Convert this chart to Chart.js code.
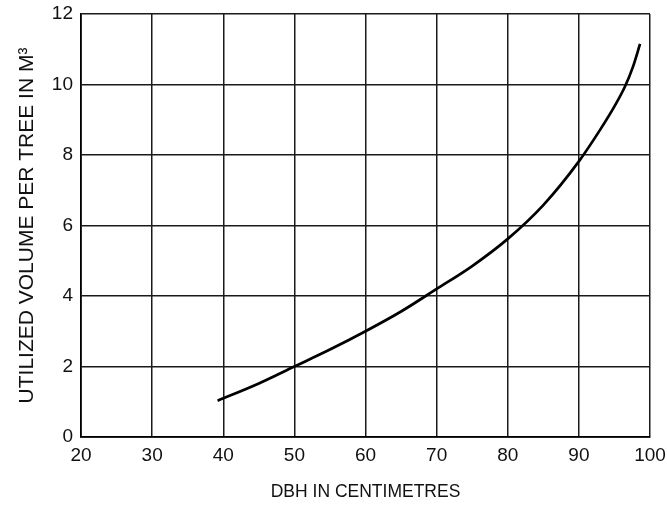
<!DOCTYPE html>
<html>
<head>
<meta charset="UTF-8">
<title>Utilized volume per tree</title>
<script src="https://cdn.jsdelivr.net/npm/chart.js@4.4.4/dist/chart.umd.min.js"></script>
<style>
html, body { margin: 0; padding: 0; background: #fff; }
#volChart { display: block; }
</style>
</head>
<body>
<canvas id="volChart" width="667" height="506"></canvas>
<script>
// DBH (cm) and utilized volume (m3)
const dbh = [39.2, 45, 50, 55, 60, 65, 70, 75, 80, 85, 90, 93, 95, 96.5, 97.6, 98.6];
const volume = [1.03, 1.52, 2.0, 2.48, 3.0, 3.56, 4.2, 4.85, 5.62, 6.58, 7.82, 8.72, 9.38, 9.95, 10.5, 11.15];
const xTicks = [20, 30, 40, 50, 60, 70, 80, 90, 100];
const yTicks = [0, 2, 4, 6, 8, 10, 12];

const pts = dbh.map((d, i) => ({ x: d, y: volume[i] }));
const family = '"Liberation Sans", Arial, sans-serif';
const tickFont = { family: family, size: 19 };
const gridStyle = { color: '#1a1a1a', lineWidth: 1.5, drawTicks: false };

// drop the extra room chart.js keeps for the outer tick labels
function noEdgePad(s) {
  s.paddingLeft = 0; s.paddingRight = 0; s.paddingTop = 0; s.paddingBottom = 0;
}

const ctx = document.getElementById('volChart').getContext('2d');
const volChart = new Chart(ctx, {
  type: 'line',
  data: {
    datasets: [{
      data: pts,
      borderColor: '#000',
      borderWidth: 2.7,
      pointRadius: 0,
      cubicInterpolationMode: 'monotone',
      fill: false
    }]
  },
  options: {
    responsive: false,
    animation: false,
    layout: { padding: { top: 14, right: 17, left: 0, bottom: 0 } },
    plugins: { legend: { display: false }, tooltip: { enabled: false } },
    scales: {
      x: {
        type: 'linear',
        min: 20, max: 100,
        afterBuildTicks: s => { s.ticks = xTicks.map(v => ({ value: v })); },
        afterFit: s => { s.height = 69; noEdgePad(s); },
        grid: gridStyle,
        border: { color: '#000', width: 1.7 },
        ticks: { color: '#111', font: tickFont, padding: 7, maxRotation: 0 },
        title: { display: true, text: 'DBH IN CENTIMETRES', color: '#111',
                 font: { family: family, size: 17.5 }, padding: { top: 4, bottom: 3 } }
      },
      y: {
        min: 0, max: 12,
        afterBuildTicks: s => { s.ticks = yTicks.map(v => ({ value: v })); },
        afterFit: s => { s.width = 81; noEdgePad(s); },
        grid: gridStyle,
        border: { color: '#000', width: 1.7 },
        ticks: { color: '#111', font: tickFont, padding: 8 },
        title: { display: true, text: 'UTILIZED VOLUME PER TREE IN M³', color: '#111',
                 font: { family: family, size: 21 }, padding: { top: 15, bottom: 0 } }
      }
    }
  }
});
</script>
</body>
</html>
